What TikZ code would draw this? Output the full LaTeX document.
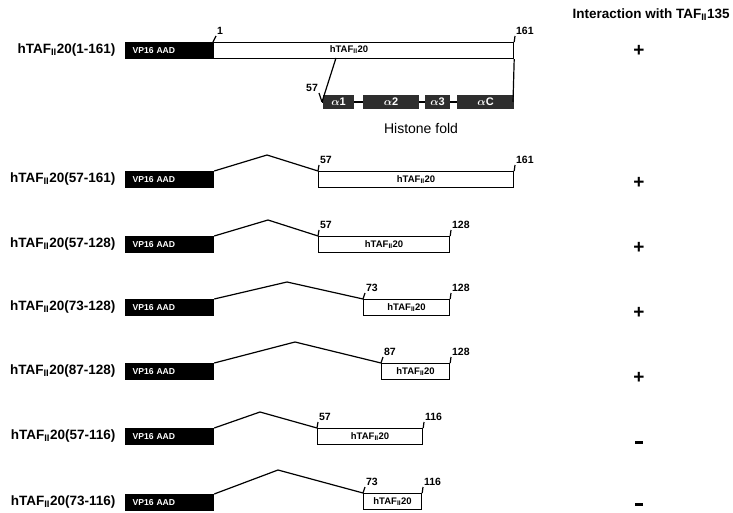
\documentclass[tikz,border=0pt]{standalone}
\usepackage{fontspec}
\setmainfont{Liberation Sans}
\begin{document}
\begin{tikzpicture}[x=1pt,y=-1pt, line width=1.2pt,
  vp/.style={fill=black, draw=black, text=white, font=\bfseries\fontsize{8.6}{9}\selectfont, minimum height=16pt, text width=74pt, inner xsep=7pt, inner ysep=0pt, align=left, anchor=north west},
  taf/.style={draw=black, fill=white, font=\bfseries\fontsize{9.5}{10}\selectfont, minimum height=16pt, inner sep=0pt, anchor=north west},
  tafl/.style={font=\bfseries\fontsize{9.5}{10}\selectfont, inner sep=0pt},
  lab/.style={font=\bfseries\fontsize{13.5}{14}\selectfont, anchor=east, inner sep=0pt},
  num/.style={font=\bfseries\fontsize{10.5}{11}\selectfont, inner sep=0.5pt, anchor=south west},
  sign/.style={font=\bfseries\fontsize{19}{19}\selectfont, inner sep=0pt},
  hel/.style={fill=black!82, draw=black!82, text=white, minimum height=12pt, inner sep=0pt, anchor=west, font=\bfseries\boldmath\fontsize{11}{10}\selectfont}]
\useasboundingbox (0,0) rectangle (733,513);

% header
\node[font=\bfseries\fontsize{13.5}{14}\selectfont, anchor=west, inner sep=0pt] (hdr) at (572,15) {Interaction with TAF\textsubscript{II}135};

% ---------- row 1 ----------
\node[lab] (L1) at (116,50) {hTAF\textsubscript{II}20(1-161)};
\node[vp] (v1) at (125,42) {VP16 AAD};
\node[taf, minimum width=300pt] (t1) at (213,42) {};
\node[tafl] (t1l) at (349,49.5) {hTAF\textsubscript{II}20};
\node[num] (n1a) at (216,36) {1};
\draw (t1.north west) -- (n1a.south west);
\node[num] (n1b) at (515,36) {161};
\draw (t1.north east) -- (n1b.south west);
\node[sign] (s1) at (639,51) {+};

% histone fold
\coordinate (h0) at (322,102);
\coordinate (hE) at (513,102);
\coordinate (s1b) at (336,58);
\draw (h0) -- (hE);
\node[hel, minimum width=30pt] (ha1) at (323,102) {$\alpha$1};
\node[hel, minimum width=55pt] (ha2) at (363,102) {$\alpha$2};
\node[hel, minimum width=24pt] (ha3) at (425,102) {$\alpha$3};
\node[hel, minimum width=56pt] (haC) at (457,102) {$\alpha$C};
\draw (s1b) -- (h0);
\draw (t1.south east) -- (hE);
\node[num, anchor=south east] (n57h) at (319,93) {57};
\draw (n57h.south east) -- (h0);
\node[font=\fontsize{14}{14}\selectfont, inner sep=0pt] (hf) at (421,128) {Histone fold};

% ---------- row 2 ----------
\node[lab] (L2) at (116,179) {hTAF\textsubscript{II}20(57-161)};
\node[vp] (v2) at (125,171) {VP16 AAD};
\coordinate (p2) at (267,155);
\node[taf, minimum width=195pt] (t2) at (318,171) {hTAF\textsubscript{II}20};
\draw (v2.north east) -- (p2) -- (t2.north west);
\node[num] (n2a) at (319,165) {57};
\draw (t2.north west) -- (n2a.south west);
\node[num] (n2b) at (515,165) {161};
\draw (t2.north east) -- (n2b.south west);
\node[sign] (s2) at (639,183) {+};

% ---------- row 3 ----------
\node[lab] (L3) at (116,244) {hTAF\textsubscript{II}20(57-128)};
\node[vp] (v3) at (125,236) {VP16 AAD};
\coordinate (p3) at (268,220);
\node[taf, minimum width=131pt] (t3) at (318,236) {hTAF\textsubscript{II}20};
\draw (v3.north east) -- (p3) -- (t3.north west);
\node[num] (n3a) at (319,230) {57};
\draw (t3.north west) -- (n3a.south west);
\node[num] (n3b) at (451,230) {128};
\draw (t3.north east) -- (n3b.south west);
\node[sign] (s3) at (639,248) {+};

% ---------- row 4 ----------
\node[lab] (L4) at (116,307) {hTAF\textsubscript{II}20(73-128)};
\node[vp] (v4) at (125,299) {VP16 AAD};
\coordinate (p4) at (287,282);
\node[taf, minimum width=86pt] (t4) at (363,299) {hTAF\textsubscript{II}20};
\draw (v4.north east) -- (p4) -- (t4.north west);
\node[num] (n4a) at (365,293) {73};
\draw (t4.north west) -- (n4a.south west);
\node[num] (n4b) at (451,293) {128};
\draw (t4.north east) -- (n4b.south west);
\node[sign] (s4) at (639,313) {+};

% ---------- row 5 ----------
\node[lab] (L5) at (116,371) {hTAF\textsubscript{II}20(87-128)};
\node[vp] (v5) at (125,363) {VP16 AAD};
\coordinate (p5) at (295,342);
\node[taf, minimum width=68pt] (t5) at (381,363) {hTAF\textsubscript{II}20};
\draw (v5.north east) -- (p5) -- (t5.north west);
\node[num] (n5a) at (383,357) {87};
\draw (t5.north west) -- (n5a.south west);
\node[num] (n5b) at (451,357) {128};
\draw (t5.north east) -- (n5b.south west);
\node[sign] (s5) at (639,378) {+};

% ---------- row 6 ----------
\node[lab] (L6) at (116,436) {hTAF\textsubscript{II}20(57-116)};
\node[vp] (v6) at (125,428) {VP16 AAD};
\coordinate (p6) at (260,412);
\node[taf, minimum width=105pt] (t6) at (317,428) {hTAF\textsubscript{II}20};
\draw (v6.north east) -- (p6) -- (t6.north west);
\node[num] (n6a) at (318,422) {57};
\draw (t6.north west) -- (n6a.south west);
\node[num] (n6b) at (424,422) {116};
\draw (t6.north east) -- (n6b.south west);
\node[sign] (s6) at (639,442) {\rule{8pt}{3pt}};

% ---------- row 7 ----------
\node[lab] (L7) at (116,502) {hTAF\textsubscript{II}20(73-116)};
\node[vp] (v7) at (125,494) {VP16 AAD};
\coordinate (p7) at (278,470);
\node[taf, minimum width=58pt] (t7) at (363,493) {hTAF\textsubscript{II}20};
\draw (v7.north east) -- (p7) -- (t7.north west);
\node[num] (n7a) at (365,487) {73};
\draw (t7.north west) -- (n7a.south west);
\node[num] (n7b) at (423,487) {116};
\draw (t7.north east) -- (n7b.south west);
\node[sign] (s7) at (639,504) {\rule{8pt}{3pt}};
\end{tikzpicture}
\end{document}
